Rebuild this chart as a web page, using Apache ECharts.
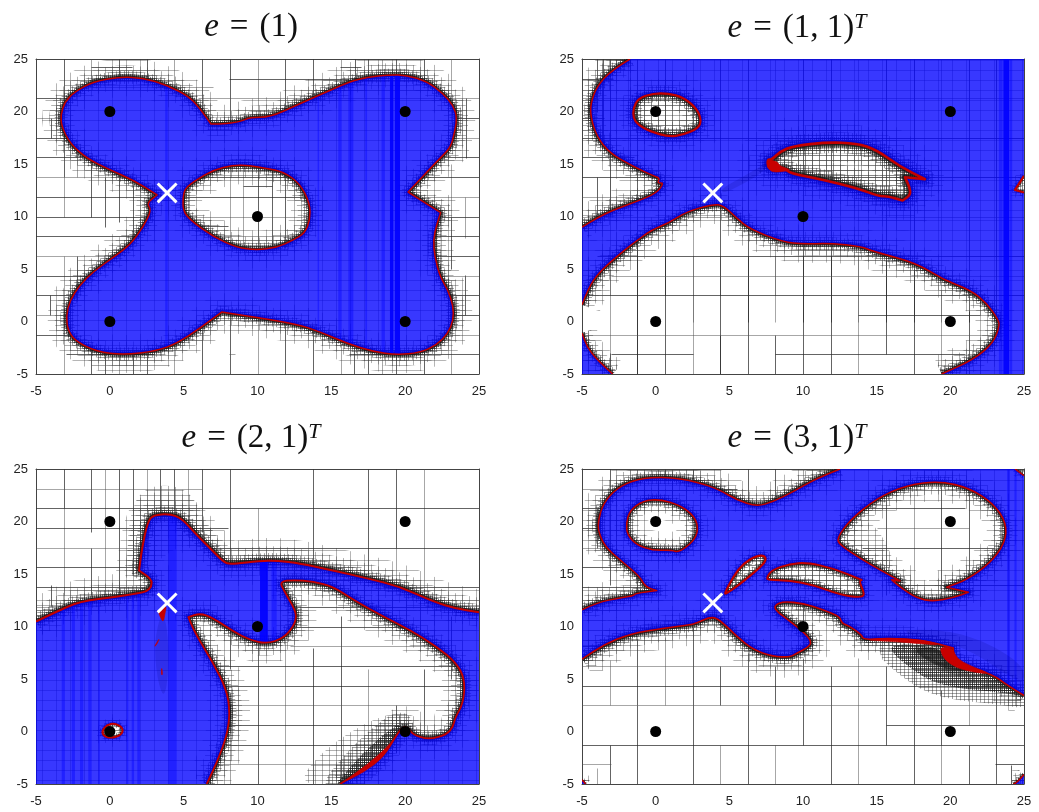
<!DOCTYPE html>
<html>
<head>
<meta charset="utf-8">
<style>html,body{margin:0;padding:0;background:#fff}#main{width:1039px;height:812px}</style>
<script src="https://cdn.jsdelivr.net/npm/echarts@6/dist/echarts.min.js"></script>
</head>
<body>
<div id="main"></div>
<script>
// axis
var axisMin = -5, axisMax = 25, axisStep = 5;
var wells = [[0, 20], [20, 20], [10, 10], [0, 0], [20, 0]];
var saddle = [[3.88, 12.25]];

// ---- e = (1)
var p1Outer = [[0.69,23.3],[2.27,23.2],[3.85,22.5],[5.3,21.5],[6.1,20.3],[6.85,18.8],[6.85,18.8],[7.57,18.8],[8.8,19],[9.5,19.45],[10.84,19.45],[12.65,20.6],[14.45,21.73],[16.26,22.84],[17.39,23.25],[18.97,23.5],[20.1,23.45],[21.45,22.9],[22.58,21.7],[23.25,20.6],[23.53,19.35],[23.25,17.45],[23.03,16.5],[22.24,15.38],[20.2,12.33],[20.2,12.33],[22.4,10.37],[22.4,10.37],[22.13,9.19],[21.9,7.76],[22,6.17],[22.36,4.27],[22.9,3],[23.26,1.41],[23.26,0.14],[22.9,-1.13],[22.13,-2.24],[21,-2.97],[19.42,-3.19],[17.84,-2.87],[16.04,-2.08],[14.23,-0.97],[12.65,-0.24],[9.94,0.4],[7.57,0.9],[7.57,0.9],[6.1,-0.65],[4.53,-2.08],[3.17,-2.81],[0.91,-3.19],[-0.89,-2.87],[-2.25,-1.92],[-2.81,-0.97],[-2.97,0.46],[-2.7,2.05],[-2.02,3.48],[-1.12,4.75],[0.24,6.11],[1.37,7.29],[2.27,9.03],[2.83,10.62],[2.49,11.25],[3.2,12.05],[3.2,12.05],[1.59,13.48],[0.01,14.43],[-1.57,15.54],[-2.7,16.97],[-3.26,18.56],[-3.33,19.67],[-3.04,20.94],[-2.36,21.89],[-1.12,22.84]];
var p1Hole = [[4.98,12.2],[4.93,10.62],[5.43,9.67],[7,8.08],[8.59,7.03],[9.94,6.81],[11.3,7.03],[12.43,7.76],[13.2,8.4],[13.56,9.67],[13.55,11.25],[12.87,13.16],[11.74,14.27],[10.62,14.6],[9.49,14.85],[8.36,14.9],[7,14.43],[5.88,13.48],[5.2,12.84]];
var p1Bands = [[3.75,3.92],[14.07,14.17],[15.47,15.7],[16.15,16.49],[17.3,17.42],[18.4,18.63]];
var p1Solid = [[18.97,19.2],[19.3,19.65]];
var p1V = [[-3.125,21.25,25],[-1.25,22.5,25],[0.625,23.3,25],[2.5,23.2,25],[4.375,22,25],[6.25,20,25],[8.125,19,25],[10,19.4,25],[11.875,20,25],[13.75,21,25],[15.625,22.4,25],[16.6,22.9,25],[17.5,23.2,25],[18.45,23.5,25],[19.4,23.5,25],[21.25,23,25],[23.125,19,25],[24.1,15.6,21.25],[-3.125,13.75,19],[-3.125,10,13.75],[-1.25,10,15.5],[0.625,9.5,14],[8.125,7,14.9],[10,6.8,14.7],[11.875,7,14.3],[-3.125,-5,6.25],[-1.25,-5,-2.7],[-0.3,-5,-3],[0.625,-5,-3.2],[1.56,-5,-3.1],[2.5,-5,-3],[4.375,-5,-2.2],[6.25,-5,-0.8],[8.125,-5,0.8],[10,-5,0.4],[11.875,-5,0],[13.75,-5,-0.7],[15.625,-5,-2],[16.55,-5,-2.4],[17.5,-5,-2.8],[18.45,-5,-3],[19.4,-5,-3.2],[21.25,-5,-2.9],[23.125,-5,4],[-4.07,0.625,2.5],[23.125,5,10],[23.125,10,15],[-2.2,2,6.25],[-4,17.5,19.4],[-2.2,13.75,17],[-0.3,9,13.75],[1.56,8,13],[9,7,14.8],[11,7,14.6],[24.05,0.625,4.4],[24.05,8,11.875]];
var p1H = [[21.25,-5,-2.7],[21.25,6,25],[23.1,8.1,16.2],[23.1,-1.2,0],[19.4,-5,-3.3],[19.4,23.5,25],[17.5,-5,-2.9],[17.5,23.2,25],[15.625,-5,-1.5],[15.625,22.3,25],[13.75,-5,1],[13.75,20.9,25],[11.875,-5,3],[11.875,20.8,25],[10,-5,2.8],[10,22.3,25],[10,5,13.5],[11.875,5,13.5],[13.75,6,12.5],[8.125,7,13],[8.125,-5,2],[8.125,22,25],[6.25,-5,0.5],[6.25,22,25],[4.375,-5,-1],[4.375,22.4,25],[2.5,-5,-2.6],[2.5,23,25],[0.625,-5,-2.9],[0.625,23.2,25],[-1.25,-5,-2.6],[-1.25,23,25],[-3.125,-3,3],[-3.125,16.2,25],[-3.125,8.1,8.5],[24.2,-1.25,1.5],[24.2,15.6,17],[22.3,-1.25,7],[9.1,6,8],[12.9,9,11],[-4.1,4,-1.25]];

// ---- e = (1,1)^T
var p2Upper = [[-1.74,25],[-2.99,23.95],[-4,22.37],[-4.41,20.78],[-4.41,19.51],[-4,17.61],[-3.1,16.02],[-1.52,14.76],[-0.16,13.87],[0.29,13.65],[0.11,13.17],[0.57,13.23],[0.07,12.22],[-1.29,11.43],[-2.87,10.63],[-4,9.84],[-5,8.98]];
var p2Lower = [[-5,1.59],[-4.57,3.18],[-3.89,4.6],[-2.65,6.19],[-1.52,7.46],[-0.27,8.73],[0.86,9.36],[2.1,10.47],[3.91,11.17],[4.59,11.05],[5.5,9.84],[6.4,8.79],[8.67,7.56],[10.02,7.37],[11.83,7.46],[13.98,7.14],[14.77,6.67],[17.71,5.56],[19.52,3.97],[21.33,3.02],[22.47,1.75],[23.26,0.17],[23.33,-0.47],[22.92,-2.05],[21.56,-3.64],[19.41,-5]];
var p2Corner = [[-2.92,-5],[-4,-3.64],[-4.68,-2.37],[-5,-1.1]];
var p2HoleA = [[-1.52,20.31],[-1.18,21.26],[-0.16,21.73],[0.86,21.73],[1.88,21.35],[2.78,20.31],[3.1,19.2],[2.9,18.4],[1.88,17.77],[0.86,17.6],[-0.38,18.09],[-1.18,18.72],[-1.52,19.35]];
var p2HoleB = [[7.87,15.39],[8.44,16.18],[9.34,16.72],[11.6,17.07],[13.64,16.98],[15,16.34],[16.58,14.76],[18.28,13.55],[18.28,13.55],[16.92,13.74],[16.92,13.74],[17.22,12.85],[17.31,12.06],[16.76,11.52],[16.76,11.52],[15.68,11.96],[15.23,11.9],[13.64,12.7],[11.38,13.49],[9.12,14.12],[8.78,14.6],[7.87,14.44],[7.6,14.76],[7.6,15.45]];
var p2HoleC = [[25,13.87],[24.39,12.54],[24.39,12.54],[25,12.28]];
var p2Red = [[7.6,15.45],[8.3,15.2],[8.4,14.8],[9.2,14.45],[8.78,14.3],[7.87,14.2],[7.6,14.76]];
var p2Streak = [[4.4,12.6],[6.2,14],[7.7,15.3],[7.4,14.3],[5.8,13],[4.6,12.2]];
var p2Bands = [[23.3,23.55],[24.05,24.2]];
var p2Solid = [[23.6,24]];
var p2V = [[-1.25,-5,7.5],[2.5,-5,6.25],[0.625,2.5,6.25],[4.375,-5,-1.25],[4.375,2.5,6.25],[6.25,-5,6.25],[8.125,-5,-1.25],[8.125,2.5,6.25],[10,-5,6.25],[11.875,-5,6.25],[13.75,-5,6.25],[15.625,-3.125,6],[17.5,-5,5],[19.4,-5,3],[21.25,-5,1],[-3.125,-5,-3],[-3.125,2.5,5],[-3.125,10,25],[-4,10,13.75],[-1.875,15,25],[-4,20,25],[-3.6,17,25],[-3.125,-5,25],[-1.25,-5,25],[0.625,-5,25],[2.5,0,25],[4.375,-5,25],[6.25,0,25],[8.125,0,25],[10,0,25],[11.875,0,25],[13.75,0,25],[15.625,0,25],[17.5,0,25],[19.4,0,25],[21.25,0,25],[23.125,0,25]];
var p2H = [[6.25,-4,25],[4.375,-3,25],[2.5,-5,25],[0.625,13.75,22],[-1.25,-5,23],[-3.125,8.125,21],[-3.125,-3,2.5],[21.25,-5,25],[17.5,-5,25],[13.75,-5,25],[10,-5,25],[19.4,-5,-3.5],[15.625,-5,-1.5],[11.875,-5,-1.5],[23.1,-5,-2.9]];

// ---- e = (2,1)^T
var p3Upper = [[-5,10.47],[-3.6,11.43],[-2.02,12.38],[0.24,12.79],[1.93,13.17],[2.49,13.33],[2.83,13.8],[2.83,14.53],[1.98,15.33],[1.98,15.33],[2.16,17.29],[2.56,19.99],[2.95,20.62],[4.07,20.72],[4.86,20.31],[5.88,18.72],[7.01,17.13],[7.8,16.02],[8.36,15.96],[10.17,16.25],[11.3,16.28],[12.88,16.02],[15.14,15.33],[17.39,14.6],[19.65,13.8],[21.9,12.38],[23.49,11.68],[25,11.36]];
var p3Lower = [[15.59,-5],[17.39,-3.48],[18.75,-1.9],[19.42,-0.31],[19.88,0.48],[20.21,0.32],[20.55,-0.31],[21.57,-0.78],[22.81,-0.31],[23.26,0.48],[23.37,1.28],[23.94,2.7],[24.05,4.92],[23.49,6.51],[22.13,8.1],[20.33,9.68],[18.52,10.95],[16.49,12.54],[15.14,13.8],[13.78,14.28],[12.43,14.44],[11.52,14.28],[11.75,13.49],[12.43,11.9],[12.65,10.95],[12.43,10],[11.75,8.89],[10.62,8.35],[9.49,8.73],[8.36,9.52],[7.01,10.79],[6.11,11.27],[5.32,10.89],[5.32,10.89],[5.77,9.36],[7.01,6.51],[7.91,3.97],[8.14,1.75],[7.91,-0.47],[7.23,-3],[6.56,-5]];
var p3Hole = [[-0.55,0.01],[-0.21,0.64],[0.35,0.8],[0.91,0.32],[0.8,-0.31],[0.12,-0.63],[-0.4,-0.47]];
var p3Sliver = [[15.59,-5],[17.2,-3.9],[18.6,-2.4],[19.42,-0.31],[18.85,-1.4],[17.4,-3.2]];
var p3SpeckA = [[3.28,11.43],[3.85,12.06],[3.74,11.27],[3.62,10.32],[3.35,11.11]];
var p3SpeckB = [[2.99,8.03],[3.4,8.98],[3.17,8.25]];
var p3SpeckC = [[3.51,6.19],[3.58,5.4],[3.48,5.4]];
var p3Dense = [[15.3,-5],[17.2,-1.9],[19.4,0.7],[19.9,0.6],[17.4,-3.6],[15.6,-5]];
var p3Halo = [[1.2,14],[1.2,20],[2.2,23.4],[5.2,23.4],[6.5,20],[8,17],[5,18],[3,16]];
var p3Fan = [[12.5,-5],[15,-1],[19,2],[20.2,1],[17,-3.5],[15.6,-5]];
var p3Streak = [[3,8.5],[3.2,5],[3.7,3],[4,6],[3.9,10],[3.5,11.5]];
var p3Bands = [[-3.26,-3.04],[-2.58,-2.36],[-2.02,-1.8],[-1.46,-1.23],[-0.78,-0.67],[1.14,1.25],[1.48,1.64],[1.86,2.04],[3.96,4.53],[10.95,11.3]];
var p3Solid = [[10.17,10.7]];
var p3V = [[-3.125,21.25,25],[-3.125,13,21.25],[-1.25,19,25],[-1.25,13,17.5],[-0.3,13,25],[0.625,13,25],[1.56,15,25],[2.5,21,25],[3.4,21,25],[4.375,21,25],[5.3,20,25],[6.25,19,25],[8.125,16,25],[10,16.3,21.25],[13.75,15.5,25],[17.5,15,25],[19.4,14,17.5],[19.4,17.5,21.25],[19.4,21.25,25],[21.25,13,25],[23.125,5,11],[10,-5,8.3],[11.875,-5,8.8],[13.75,-5,8],[15.625,-5,11],[17.5,-4,6],[19.4,-2,2.5],[21.25,-1,6],[8.125,-5,2.5],[8.125,6,10],[-4,12,14],[-3.125,11.5,13.75]];
var p3H = [[21.25,-5,25],[23.1,-5,6.25],[19.4,-5,2.6],[19.4,4.5,8],[17.5,-5,2],[17.5,6.25,25],[15.625,-5,2],[15.625,8,17],[13.75,-5,2.5],[13.75,18.5,25],[11.875,-5,-2.5],[11.875,12.5,23],[10,12.5,20],[8.125,12.2,23],[6.25,7.2,23.5],[4.375,7.8,24],[2.5,8.1,24],[0.625,8,19.5],[-1.25,7.8,18.8],[-3.125,7.2,17]];

// ---- e = (3,1)^T
var p4Upper = [[-5,11.58],[-4,12.28],[-2.19,12.79],[-1.5,12.92],[-1.38,13.17],[0.07,13.42],[0.07,13.42],[-0.72,13.8],[-1.06,14.76],[-2.42,16.34],[-3.44,17.61],[-3.89,19.04],[-3.89,20.15],[-3.55,21.73],[-2.65,23.16],[-1.29,24.05],[0.75,24.27],[2.78,23.79],[4.37,23],[5.5,22.05],[6.86,21.42],[7.99,21.89],[9.34,22.84],[10.7,23.95],[12.51,25]];
var p4TopRight = [[24.39,25],[25,24.37]];
var p4Lower = [[25,3.43],[23.82,4.45],[22.92,5.4],[21.11,6.19],[20.2,6.83],[20.2,7.94],[20.2,7.94],[18.17,8.73],[15.68,8.89],[14.1,8.73],[13.98,9.21],[13.2,10],[12.62,10.32],[12.51,10.95],[11.38,11.58],[10.02,12.22],[8.67,12.38],[8.1,12.06],[8.1,11.58],[9.12,10.47],[10.02,9.52],[10.59,8.57],[10.36,8.03],[9.57,7.46],[9.12,7.08],[7.99,7.14],[6.63,7.78],[5.5,9.05],[4.37,10.63],[3.76,10.95],[2.78,10.32],[2.33,10.16],[0.52,9.84],[-1.74,9.3],[-3.55,8.25],[-5,6.89]];
var p4HoleA = [[-2.01,19.83],[-1.74,21.1],[-0.84,21.99],[0.29,22.11],[1.65,21.57],[2.67,20.46],[2.9,19.2],[2.56,18.09],[1.54,17.04],[1.09,17.29],[-0.16,17.23],[-1.29,17.77],[-1.92,18.72]];
var p4HoleB = [[4.66,13.11],[5.27,14.76],[5.95,16.02],[6.86,16.75],[7.42,16.75],[7.49,16.18],[6.63,15.07],[5.5,13.8],[4.82,13.17]];
var p4HoleC = [[7.53,14.6],[7.87,15.39],[9.12,15.96],[10.25,16.09],[12.06,15.55],[13.98,14.44],[13.98,14.44],[13.82,14.28],[14.21,13.01],[13.87,12.76],[12.51,13.01],[10.7,13.96],[9.12,14.38],[7.65,14.44]];
var p4HoleD = [[12.29,18.4],[13.19,20.15],[15,22.21],[17.04,23.48],[19.3,23.86],[21.33,23.16],[22.92,21.73],[23.82,19.83],[23.71,17.93],[22.69,16.02],[21.11,14.44],[19.75,13.74],[19.75,13.74],[21.22,13.26],[21.22,13.26],[20.2,12.76],[18.85,12.38],[17.71,12.69],[16.7,13.65],[16.02,14.44],[16.02,14.44],[16.58,14.34],[16.58,14.34],[15.23,15.39],[13.87,16.5],[12.51,17.77]];
var p4Tip = [[12.4,18.4],[13.5,20.2],[15,19.8],[16.6,15],[14,16.5]];
var p4CornerBR = [[25,-4.1],[24.5,-4.9],[24.27,-5]];
var p4CornerBL = [[-4.75,-5],[-5,-4.6]];
var p4Red = [[19.3,8.1],[20.2,7.94],[20.38,6.99],[21.33,6.26],[22.92,5.4],[20.88,5.81],[19.86,6.51],[19.41,7.3]];
var p4Sliver = [[14.1,8.73],[15.68,8.89],[18.17,8.73],[19.4,8.2],[18.2,8.35],[15.7,8.6]];
var p4Dense = [[15.45,8.41],[19.3,8.1],[19.86,6.51],[22.92,5.24],[25,3.3],[23.82,3.66],[19.3,4.29],[17.04,6.19]];
var p4Dark = [[17.2,7.9],[19.3,8.1],[19.86,6.4],[21.6,5.7],[19.4,5.9]];
var p4Streak = [[17,9.2],[21,8.2],[25,4.2],[25,6.5],[21,9.5],[17,9.8]];
var p4Bands = [[23.85,24.05],[24.35,24.5]];
var p4Solid = [];
var p4V = [[-3.125,21.25,25],[-1.25,23.5,25],[0.625,24,25],[2.5,23.8,25],[4.375,22.8,25],[6.25,21.4,25],[8.125,22,25],[10,23.4,25],[11.875,24.6,25],[-3.125,-5,-1.25],[-3.125,2.5,6.8],[-1.25,2.5,8.8],[-1.25,-5,2.5],[0.625,2.5,9],[2.5,-5,10],[4.375,2.5,6.25],[4.375,-5,-1.25],[6.25,-5,7.5],[8.125,2.5,6.25],[8.125,-5,-1.25],[10,-1.25,7],[11.875,-5,6.25],[13.75,-5,7],[15.625,-1.25,6.25],[17.5,-5,2.5],[19.4,-5,-1.25],[19.4,-1.25,4],[21.25,-5,-1.25],[21.25,0.6,5.5],[17.5,2.5,8],[23.125,-5,4],[-4,-5,-3.5],[24.1,-5,-3.2],[-3.125,14,21.25],[-4,11.5,13.75],[-4,17.5,21.25],[-1.25,13,15],[2.5,23.8,25],[21.25,13,23],[19.4,12,24],[17.5,12.5,24],[15.625,13,22.5],[10,7.5,12.5]];
var p4H = [[21.25,-5,-3.4],[23.1,-5,-2.3],[23.1,3.9,5.5],[19.4,-5,-3.9],[17.5,-5,-3.4],[15.625,-5,-2.5],[13.75,-5,-0.7],[6.25,-5,25],[8.125,-5,-3.5],[4.375,-5,24],[2.5,-5,25],[0.625,15.625,25],[-1.25,-5,25],[-3.125,-5,-3],[-3.125,23,25],[14,16,25],[19.4,15,21.25],[21.25,14,21],[17.5,14,23],[10,12.5,17.5]];

var titles = [
  {x: 246, y: 6, text: '{e|e}{n|\u200a = \u200a(1)}'},
  {x: 792, y: 6, text: '{e|e}{n|\u200a = \u200a(1, 1)}{t|T}'},
  {x: 246, y: 416, text: '{e|e}{n|\u200a = \u200a(2, 1)}{t|T}'},
  {x: 792, y: 416, text: '{e|e}{n|\u200a = \u200a(3, 1)}{t|T}'}
];

var grids = [
  {left: 36, top: 59, width: 443, height: 315},
  {left: 582, top: 59, width: 442, height: 315},
  {left: 36, top: 469, width: 443, height: 315},
  {left: 582, top: 469, width: 442, height: 315}
];

function corner(c) { return [c[0], c[0]].concat(c.slice(1, -1), [c[c.length - 1], c[c.length - 1]]) }
function ring() {
  var out = []
  for (var i = 0; i < arguments.length; i++) out = out.concat(corner(arguments[i]))
  return out
}
var c = function (x, y) { return [[x, y]] }

var panels = [
  {
    regions: [[p1Outer, p1Hole]],
    curves: [{pts: p1Outer, closed: true, red: 1.5, band: 1}, {pts: p1Hole, closed: true, red: 1.5, band: 1}],
    bands: p1Bands, solid: p1Solid, v: p1V, h: p1H, patches: [], dense: [], fans: [], dark: [], streaks: []
  },
  {
    regions: [
      [ring(p2Upper, p2Lower, c(25, -5), c(25, 25)), p2HoleA, p2HoleB, ring(p2HoleC)],
      [ring(p2Corner, c(-5, -5))]
    ],
    curves: [
      {pts: p2Upper, red: 1.5, band: 1}, {pts: p2Lower, red: 1.5, band: 1}, {pts: p2Corner, red: 1.5, band: 0.8},
      {pts: p2HoleA, closed: true, red: 2.2, band: 1.2}, {pts: p2HoleB, closed: true, red: 2.6, band: 1.6}, {pts: p2HoleC, red: 2.2, band: 0.6}
    ],
    bands: p2Bands, solid: p2Solid, v: p2V, h: p2H, patches: [p2Red], dense: [], fans: [p2HoleA, p2HoleB], dark: [], streaks: [p2Streak]
  },
  {
    regions: [[ring(p3Upper, c(25, -5), p3Lower, c(-5, -5)), p3Hole]],
    curves: [{pts: p3Upper, red: 2, band: 1.2}, {pts: p3Lower, red: 1.8, band: 1.1}, {pts: p3Hole, closed: true, red: 2, band: 0.5}],
    bands: p3Bands, solid: p3Solid, v: p3V, h: p3H, patches: [p3Sliver, p3SpeckA, p3SpeckB, p3SpeckC], dense: [p3Dense], fans: [p3Halo, p3Fan], dark: [], streaks: [p3Streak]
  },
  {
    regions: [
      [ring(p4Upper, p4TopRight, p4Lower), p4HoleA, p4HoleB, p4HoleC, p4HoleD],
      [ring(p4CornerBR, c(25, -5))],
      [ring(p4CornerBL, c(-5, -5))]
    ],
    curves: [
      {pts: p4Upper, red: 1.5, band: 1}, {pts: p4Lower, red: 1.6, band: 1.1}, {pts: p4TopRight, red: 1.5, band: 0.5},
      {pts: p4HoleA, closed: true, red: 1.6, band: 1}, {pts: p4HoleB, closed: true, red: 2.2, band: 0.8},
      {pts: p4HoleC, closed: true, red: 2, band: 0.9}, {pts: p4HoleD, closed: true, red: 1.6, band: 1},
      {pts: p4CornerBR, red: 1.5, band: 0.6}, {pts: p4CornerBL, red: 1.5, band: 0.4}
    ],
    bands: p4Bands, solid: p4Solid, v: p4V, h: p4H, patches: [p4Red, p4Sliver], dense: [p4Dense], fans: [p4HoleB, p4HoleC, p4Tip], dark: [p4Dark], streaks: [p4Streak]
  }
]

// mesh texture for the refined zones
function meshPattern(w, h, color) {
  var cv = document.createElement('canvas')
  cv.width = w
  cv.height = h
  var g = cv.getContext('2d')
  g.fillStyle = color
  g.fillRect(0, 0, w, 1)
  g.fillRect(0, 0, 1, h)
  return {image: cv, repeat: 'repeat'}
}
var meshCoarse = meshPattern(14, 10, 'rgba(60,60,60,0.38)')
var meshWide = meshPattern(7, 5, 'rgba(70,70,70,0.42)')
var meshMid = meshPattern(4, 3, 'rgba(50,50,50,0.45)')
var meshFine = meshPattern(2, 2, 'rgba(30,30,30,0.55)')

function toPixels(api, pts) {
  return pts.map(function (p) { return api.coord(p) })
}
function smoothPath(pix, closed) {
  var n = pix.length
  var mid = function (a, b) { return ((a[0] + b[0]) / 2).toFixed(2) + ' ' + ((a[1] + b[1]) / 2).toFixed(2) }
  var d = ''
  if (closed) {
    d = 'M' + mid(pix[n - 1], pix[0])
    for (var i = 0; i < n; i++) d += 'Q' + pix[i][0].toFixed(2) + ' ' + pix[i][1].toFixed(2) + ' ' + mid(pix[i], pix[(i + 1) % n])
    return d + 'Z'
  }
  d = 'M' + pix[0][0].toFixed(2) + ' ' + pix[0][1].toFixed(2)
  for (var j = 1; j < n - 1; j++) d += 'Q' + pix[j][0].toFixed(2) + ' ' + pix[j][1].toFixed(2) + ' ' + mid(pix[j], pix[j + 1])
  return d + 'L' + pix[n - 1][0].toFixed(2) + ' ' + pix[n - 1][1].toFixed(2)
}
function signedArea(pix) {
  var a = 0
  for (var i = 0; i < pix.length; i++) {
    var q = pix[(i + 1) % pix.length]
    a += pix[i][0] * q[1] - q[0] * pix[i][1]
  }
  return a
}
// outer ring first, holes wound the other way
function regionPath(api, rings) {
  return rings.map(function (r, i) {
    var pix = toPixels(api, r)
    var positive = signedArea(pix) > 0
    if ((i === 0) !== positive) pix.reverse()
    return smoothPath(pix, true)
  }).join('')
}
function pathEl(d, style) {
  return {type: 'path', shape: {pathData: d}, style: style}
}

function renderPanel(panel, api) {
  var kids = []
  var line = function (a, b, color, width) {
    var p = api.coord(a), q = api.coord(b)
    kids.push({type: 'line', shape: {x1: Math.round(p[0]) + 0.5, y1: Math.round(p[1]) + 0.5, x2: Math.round(q[0]) + 0.5, y2: Math.round(q[1]) + 0.5}, style: {stroke: color, lineWidth: width}})
  }
  panel.v.forEach(function (s, i) { line([s[0], s[1]], [s[0], s[2]], i % 3 === 1 ? 'rgba(80,80,80,0.5)' : 'rgba(40,40,40,0.72)', 1) })
  panel.h.forEach(function (s, i) { line([s[1], s[0]], [s[2], s[0]], i % 3 === 1 ? 'rgba(80,80,80,0.5)' : 'rgba(40,40,40,0.72)', 1) })

  panel.fans.forEach(function (z) {
    kids.push(pathEl(smoothPath(toPixels(api, z), true), {fill: meshWide}))
  })
  panel.curves.forEach(function (cv) {
    var d = smoothPath(toPixels(api, cv.pts), cv.closed)
    kids.push(pathEl(d, {fill: 'none', stroke: meshCoarse, lineWidth: 38 * cv.band, lineJoin: 'round'}))
    kids.push(pathEl(d, {fill: 'none', stroke: meshWide, lineWidth: 24 * cv.band, lineJoin: 'round'}))
    kids.push(pathEl(d, {fill: 'none', stroke: meshMid, lineWidth: 13 * cv.band, lineJoin: 'round'}))
    kids.push(pathEl(d, {fill: 'none', stroke: meshFine, lineWidth: 7 * cv.band, lineJoin: 'round'}))
    kids.push(pathEl(d, {fill: 'none', stroke: 'rgba(20,20,20,0.8)', lineWidth: 3.5 * cv.band, lineJoin: 'round'}))
  })
  panel.dense.forEach(function (z) {
    kids.push(pathEl(smoothPath(toPixels(api, z), true), {fill: meshMid, stroke: meshMid, lineWidth: 24}))
    kids.push(pathEl(smoothPath(toPixels(api, z), true), {fill: meshFine}))
  })
  panel.dark.forEach(function (z) {
    kids.push(pathEl(smoothPath(toPixels(api, z), true), {fill: 'rgba(20,20,20,0.55)', stroke: 'rgba(20,20,20,0.25)', lineWidth: 8}))
  })

  panel.regions.forEach(function (rings) {
    var d = regionPath(api, rings)
    kids.push(pathEl(d, {fill: meshCoarse}))
    kids.push(pathEl(d, {fill: 'rgba(0,0,255,0.78)'}))
  })
  // columns where the mesh is so thin that it reads as pure blue
  var mainPath = regionPath(api, panel.regions[0])
  var column = function (b, alpha) {
    var p = api.coord([b[0], axisMax]), q = api.coord([b[1], axisMin])
    return {type: 'rect', shape: {x: p[0], y: p[1], width: q[0] - p[0], height: q[1] - p[1]}, style: {fill: 'rgba(0,0,255,' + alpha + ')'}}
  }
  var cols = panel.bands.map(function (b) { return column(b, 0.4) }).concat(panel.solid.map(function (b) { return column(b, 0.9) }))
  panel.streaks.forEach(function (z) {
    cols.push(pathEl(smoothPath(toPixels(api, z), true), {fill: 'rgba(0,0,130,0.16)'}))
  })
  kids.push({type: 'group', clipPath: {type: 'path', shape: {pathData: mainPath}}, children: cols})

  panel.curves.forEach(function (cv) {
    var d = smoothPath(toPixels(api, cv.pts), cv.closed)
    kids.push(pathEl(d, {fill: 'none', stroke: '#c40000', lineWidth: cv.red, lineJoin: 'round'}))
  })
  panel.patches.forEach(function (z) {
    kids.push(pathEl(smoothPath(toPixels(api, z), true), {fill: '#c80000', stroke: '#c80000', lineWidth: 0.6}))
  })
  return {type: 'group', children: kids}
}

var xLabel = {fontFamily: 'Liberation Sans', fontSize: 13, color: '#222', margin: 11}
var yLabel = {fontFamily: 'Liberation Sans', fontSize: 13, color: '#222', margin: 8}
var frame = {show: true, onZero: false, lineStyle: {color: '#444', width: 1}}
var option = {
  animation: false,
  backgroundColor: '#fff',
  title: titles.map(function (t) {
    return {
      left: t.x, top: t.y, textAlign: 'center', text: t.text,
      textStyle: {
        fontWeight: 'normal',
        rich: {
          e: {fontFamily: 'Liberation Serif', fontStyle: 'italic', fontWeight: 'normal', fontSize: 33, color: '#111'},
          n: {fontFamily: 'Liberation Serif', fontWeight: 'normal', fontSize: 33, color: '#111'},
          t: {fontFamily: 'Liberation Serif', fontStyle: 'italic', fontWeight: 'normal', fontSize: 22, color: '#111', verticalAlign: 'top', padding: [0, 0, 12, 0]}
        }
      }
    }
  }),
  grid: grids,
  xAxis: grids.map(function (g, i) {
    return {gridIndex: i, type: 'value', min: axisMin, max: axisMax, interval: axisStep, splitLine: {show: false}, axisTick: {show: false}, axisLine: frame, axisLabel: xLabel}
  }).concat(grids.map(function (g, i) {
    return {gridIndex: i, type: 'value', position: 'top', min: axisMin, max: axisMax, interval: axisStep, splitLine: {show: false}, axisTick: {show: false}, axisLine: frame, axisLabel: {show: false}}
  })),
  yAxis: grids.map(function (g, i) {
    return {gridIndex: i, type: 'value', min: axisMin, max: axisMax, interval: axisStep, splitLine: {show: false}, axisTick: {show: false}, axisLine: frame, axisLabel: yLabel}
  }).concat(grids.map(function (g, i) {
    return {gridIndex: i, type: 'value', position: 'right', min: axisMin, max: axisMax, interval: axisStep, splitLine: {show: false}, axisTick: {show: false}, axisLine: frame, axisLabel: {show: false}}
  })),
  series: []
}
panels.forEach(function (panel, i) {
  option.series.push({
    type: 'custom', coordinateSystem: 'cartesian2d', xAxisIndex: i, yAxisIndex: i, clip: true, silent: true, z: 1,
    data: [[0, 0]],
    renderItem: function (params, api) { return renderPanel(panel, api) }
  })
  option.series.push({
    type: 'scatter', xAxisIndex: i, yAxisIndex: i, data: wells, symbolSize: 11, z: 5, silent: true,
    itemStyle: {color: '#000', opacity: 1}
  })
  option.series.push({
    type: 'scatter', xAxisIndex: i, yAxisIndex: i, data: saddle, z: 6, silent: true, symbolSize: 21,
    symbol: 'path://M2 0L10 8L18 0L20 2L12 10L20 18L18 20L10 12L2 20L0 18L8 10L0 2Z',
    itemStyle: {color: '#fff', opacity: 1}
  })
})
var chart = echarts.init(document.getElementById('main'), null, {renderer: 'canvas'})
chart.setOption(option)
</script>
</body>
</html>
